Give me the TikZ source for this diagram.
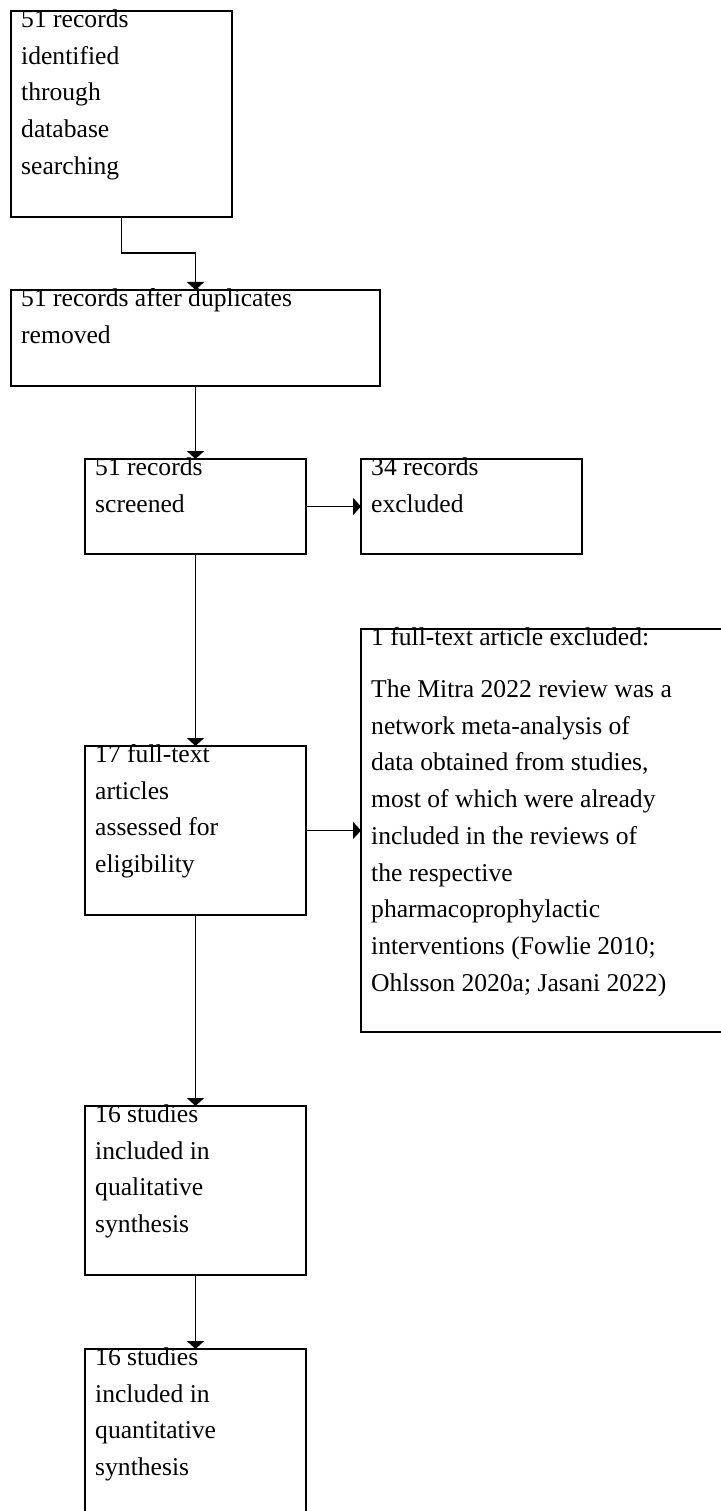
\documentclass[tikz,border=0pt]{standalone}
\usepackage{fontspec}
\setmainfont{Liberation Serif}
\usetikzlibrary{calc,arrows.meta}

\tikzset{
	box/.style={draw, line width=1.8pt, anchor=north west, inner sep=0pt, outer sep=0pt},
	boxtext/.style={anchor=base west, inner sep=0pt, text width=340pt, align=flush left, font=\fontsize{25.6}{36.7}\selectfont},
	flow/.style={line width=1.8pt, -{Triangle[length=8pt, width=17pt]}}
}

\begin{document}
\begin{tikzpicture}[x=1pt, y=-1pt]
			%%%%% START %%%%%
			
			\useasboundingbox (0, 0) rectangle (720, 1511);
			
			\node[box, minimum width=221pt, minimum height=206pt] (ident) at (11, 11) {};
			\node[boxtext] (identtext) at ($(ident.north west)+(10, 16.5)$) {51 records\\identified\\through\\database\\searching};
			
			\node[box, minimum width=369pt, minimum height=96pt] (dedup) at (11, 290) {};
			\node[boxtext] (deduptext) at ($(dedup.north west)+(10, 16.5)$) {51 records after duplicates\\removed};
			
			\node[box, minimum width=221pt, minimum height=95pt] (screen) at (85, 459) {};
			\node[boxtext] (screentext) at ($(screen.north west)+(10, 16.5)$) {51 records\\screened};
			
			\node[box, minimum width=221pt, minimum height=95pt] (excl) at (361, 459) {};
			\node[boxtext] (excltext) at ($(excl.north west)+(10, 16.5)$) {34 records\\excluded};
			
			\node[box, minimum width=370pt, minimum height=403pt] (ftexcl) at (361, 629) {};
			\node[boxtext] (ftexcltext) at ($(ftexcl.north west)+(10, 16.5)$) {1 full-text article excluded:\\[15.3pt]The Mitra 2022 review was a\\network meta-analysis of\\data obtained from studies,\\most of which were already\\included in the reviews of\\the respective\\pharmacoprophylactic\\interventions (Fowlie 2010;\\Ohlsson 2020a; Jasani 2022)};
			
			\node[box, minimum width=221pt, minimum height=169pt] (fulltext) at (85, 746) {};
			\node[boxtext] (fulltexttext) at ($(fulltext.north west)+(10, 16.5)$) {17 full-text\\articles\\assessed for\\eligibility};
			
			\node[box, minimum width=221pt, minimum height=169pt] (qual) at (85, 1106) {};
			\node[boxtext] (qualtext) at ($(qual.north west)+(10, 16.5)$) {16 studies\\included in\\qualitative\\synthesis};
			
			\node[box, minimum width=221pt, minimum height=169pt] (quant) at (85, 1349) {};
			\node[boxtext] (quanttext) at ($(quant.north west)+(10, 16.5)$) {16 studies\\included in\\quantitative\\synthesis};
			
			
			\coordinate (bend) at ($(ident.south)+(0, 36)$);
			\draw[flow] (ident.south) -- (bend) -| (dedup.north);
			\draw[flow] (dedup.south) -- (screen.north);
			\draw[flow] (screen.east) -- (excl.west);
			\draw[flow] (screen.south) -- (fulltext.north);
			\draw[flow] (fulltext.east) -- (ftexcl.west);
			\draw[flow] (fulltext.south) -- (qual.north);
			\draw[flow] (qual.south) -- (quant.north);
			
			%%%%% END %%%%%
\end{tikzpicture}
\end{document}
